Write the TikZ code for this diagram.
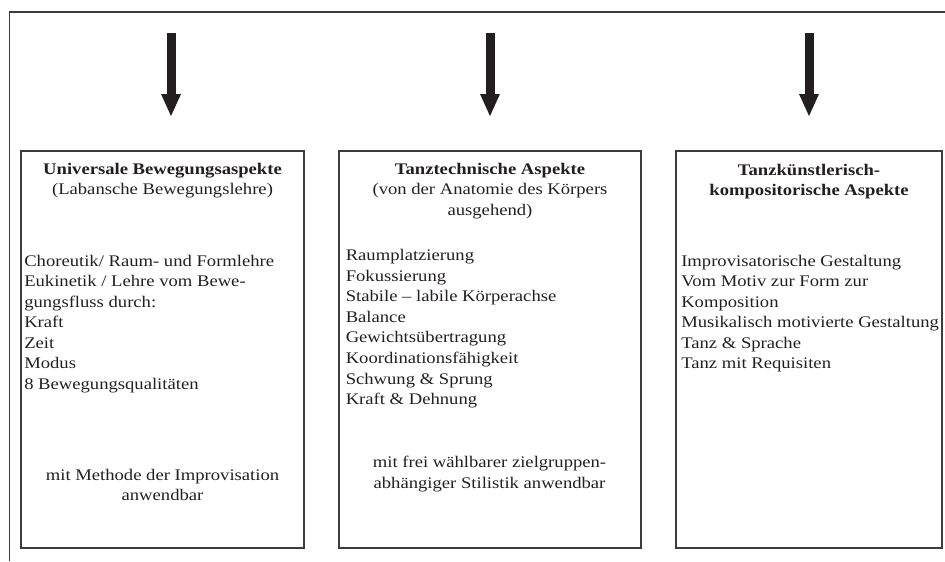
\documentclass[tikz,border=0pt]{standalone}
\usepackage{fontspec}
\setmainfont{Liberation Serif}[FakeStretch=1.15]
\usetikzlibrary{arrows.meta}
\definecolor{ink}{HTML}{231F20}
\definecolor{rulecol}{HTML}{3C3C3C}
\begin{document}
\begin{tikzpicture}[x=0.75pt,y=-0.75pt,
  box/.style={draw=rulecol, line width=0.9pt, inner sep=0pt, rectangle,
    minimum height=297.75pt},
  frameline/.style={draw=rulecol, line width=0.9pt},
  txt/.style={inner sep=0pt, text=ink, font=\fontsize{12.15pt}{15.4pt}\selectfont},
  arrowdown/.style={draw=ink, line width=6.75pt,
    -{Triangle[width=15pt,length=16.5pt,line width=0pt]}}
]
\useasboundingbox (0,0) rectangle (945,561);
% open frame
\coordinate (fTR) at (945,12);
\coordinate (fTL) at (9.5,12);
\coordinate (fBL) at (9.5,561);
\draw[frameline] (fTR) -- (fTL) -- (fBL);
% boxes
\node[box, minimum width=212.25pt] (b1) at (162.5,349.5) {};
\node[box, minimum width=226.5pt] (b2) at (490,349.5) {};
\node[box, minimum width=199.5pt] (b3) at (809,349.5) {};
% arrows
\coordinate (a1s) at (171,33); \coordinate (a1e) at (171,116);
\coordinate (a2s) at (490,33); \coordinate (a2e) at (490,116);
\coordinate (a3s) at (809,33); \coordinate (a3e) at (809,116);
\draw[arrowdown] (a1s) -- (a1e);
\draw[arrowdown] (a2s) -- (a2e);
\draw[arrowdown] (a3s) -- (a3e);
% box 1
\node[txt, anchor=north, align=center] (t1) at (162.5,160.7)
  {\rule{0pt}{10pt}\textbf{Universale Bewegungsaspekte}\\(Labansche Bewegungslehre)};
\node[txt, anchor=north west, align=left] (l1) at (24,252.7)
  {\rule{0pt}{10pt}Choreutik/ Raum- und Formlehre\\Eukinetik / Lehre vom Bewe-\\gungsfluss durch:\\Kraft\\Zeit\\Modus\\8 Bewegungsqualitäten};
\node[txt, anchor=north, align=center] (m1) at (162.5,466.7)
  {\rule{0pt}{10pt}mit Methode der Improvisation\\anwendbar};
% box 2
\node[txt, anchor=north, align=center] (t2) at (490,160.7)
  {\rule{0pt}{10pt}\textbf{Tanztechnische Aspekte}\\(von der Anatomie des Körpers\\ausgehend)};
\node[txt, anchor=north west, align=left] (l2) at (345.5,247.2)
  {\rule{0pt}{10pt}Raumplatzierung\\Fokussierung\\Stabile – labile Körperachse\\Balance\\Gewichtsübertragung\\Koordinationsfähigkeit\\Schwung \& Sprung\\Kraft \& Dehnung};
\node[txt, anchor=north, align=center] (m2) at (489.5,454.2)
  {\rule{0pt}{10pt}mit frei wählbarer zielgruppen-\\abhängiger Stilistik anwendbar};
% box 3
\node[txt, anchor=north, align=center] (t3) at (809,161.7)
  {\rule{0pt}{10pt}\textbf{Tanzkünstlerisch-}\\\textbf{kompositorische Aspekte}};
\node[txt, anchor=north west, align=left] (l3) at (681,252.7)
  {\rule{0pt}{10pt}Improvisatorische Gestaltung\\Vom Motiv zur Form zur\\Komposition\\Musikalisch motivierte Gestaltung\\Tanz \& Sprache\\Tanz mit Requisiten};
\end{tikzpicture}
\end{document}
